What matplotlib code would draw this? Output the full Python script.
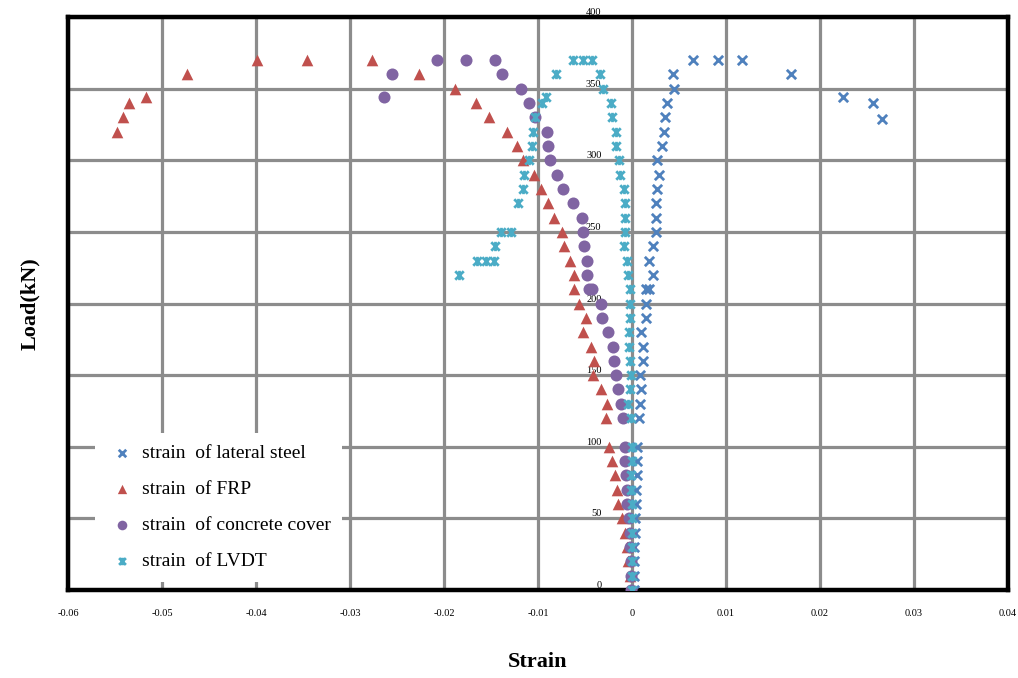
import matplotlib
matplotlib.use('Agg')
import matplotlib.pyplot as plt
from matplotlib.path import Path
import numpy as np

plt.rcParams['font.family'] = ['Liberation Serif', 'DejaVu Serif']

# lateral steel strain gauge
steel_load = [0, 10, 20, 30, 40, 50, 60, 70, 80, 90, 100, 120, 130, 140, 150, 160, 170, 180, 190, 200,
              210, 210, 220, 230, 240, 250, 260, 270, 280, 290, 300, 310, 320, 330, 340, 350, 360,
              370, 370, 370, 360, 344, 340, 329]
steel_strain = [0.0002, 0.0002, 0.0002, 0.0002, 0.0003, 0.0003, 0.0004, 0.0004, 0.0005, 0.0005, 0.0005,
                0.0007, 0.0009, 0.0010, 0.0009, 0.0012, 0.0012, 0.0010, 0.0015, 0.0015,
                0.0015, 0.0018, 0.0022, 0.0018, 0.0022, 0.0026, 0.0026, 0.0026, 0.0027, 0.0029, 0.0027,
                0.0032, 0.0034, 0.0035, 0.0037, 0.0045, 0.0044,
                0.0065, 0.0092, 0.0117, 0.0169, 0.0224, 0.0256, 0.0266]

# FRP jacket
frp_load = [0, 10, 20, 30, 40, 50, 60, 70, 80, 90, 100, 120, 130, 140, 150, 160, 170, 180, 190, 200,
            210, 220, 230, 240, 250, 260, 270, 280, 290, 300, 310, 320, 330, 340, 350, 360,
            370, 370, 370, 360, 344, 340, 330, 320]
frp_strain = [-0.0001, -0.0002, -0.0004, -0.0005, -0.0007, -0.0011, -0.0015, -0.0016, -0.0018, -0.0021,
              -0.0024, -0.0028, -0.0027, -0.0033, -0.0041, -0.0040, -0.0044, -0.0052, -0.0049, -0.0056,
              -0.0062, -0.0062, -0.0066, -0.0072, -0.0074, -0.0083, -0.0089, -0.0097, -0.0104, -0.0116,
              -0.0122, -0.0133, -0.0152, -0.0166, -0.0188, -0.0227,
              -0.0277, -0.0346, -0.0399, -0.0473, -0.0517, -0.0535, -0.0541, -0.0548]

# concrete cover
cover_load = [0, 10, 20, 30, 40, 50, 60, 70, 80, 90, 100, 120, 130, 140, 150, 160, 170, 180, 190, 200,
              210, 210, 220, 230, 240, 250, 260, 270, 280, 290, 300, 310, 320, 330, 340, 350, 360,
              370, 370, 370, 360, 344]
cover_strain = [-0.0001, -0.0001, -0.0001, -0.0002, -0.0002, -0.0003, -0.0005, -0.0005, -0.0006, -0.0007,
                -0.0007, -0.0010, -0.0012, -0.0015, -0.0017, -0.0019, -0.0020, -0.0026, -0.0032, -0.0033,
                -0.0046, -0.0043, -0.0048, -0.0048, -0.0051, -0.0052, -0.0053, -0.0063, -0.0073, -0.0080,
                -0.0087, -0.0089, -0.0090, -0.0103, -0.0110, -0.0118, -0.0138,
                -0.0146, -0.0177, -0.0207, -0.0255, -0.0264]

# LVDT readings
lvdt_load = [0, 10, 20, 30, 40, 50, 60, 70, 80, 90, 100, 120, 130, 140, 150, 160, 170, 180, 190, 200,
             210, 220, 230, 240, 250, 260, 270, 280, 290, 300, 310, 320, 330, 340, 350, 360,
             370, 370, 370, 360,
             220, 230, 230, 230, 240, 250, 250, 270, 280, 290, 300, 310, 320, 330, 340, 344]
lvdt_strain = [0.0, 0.0, 0.0, 0.0, 0.0, 0.0, 0.0, -0.0001, -0.0001, 0.0, 0.0, -0.0001, -0.0004, -0.0002,
               -0.0001, -0.0002, -0.0003, -0.0003, -0.0002, -0.0002,
               -0.0002, -0.0004, -0.0005, -0.0009, -0.0007, -0.0007, -0.0007, -0.0009, -0.0013, -0.0014,
               -0.0017, -0.0017, -0.0021, -0.0022, -0.0031, -0.0034,
               -0.0043, -0.0052, -0.0063, -0.0081,
               -0.0184, -0.0165, -0.0155, -0.0147, -0.0146, -0.0139, -0.0129, -0.0121, -0.0116, -0.0115,
               -0.0110, -0.0106, -0.0105, -0.0103, -0.0096, -0.0091]

x_ticks = [-0.06, -0.05, -0.04, -0.03, -0.02, -0.01, 0, 0.01, 0.02, 0.03, 0.04]
x_tick_labels = ['-0.06', '-0.05', '-0.04', '-0.03', '-0.02', '-0.01', '0', '0.01', '0.02', '0.03', '0.04']
y_ticks = [0, 50, 100, 150, 200, 250, 300, 350, 400]

# asterisk-like marker: an x with a vertical stroke
star = Path([(-1, -1), (1, 1), (-1, 1), (1, -1), (0, -1.1), (0, 1.1)],
            [Path.MOVETO, Path.LINETO, Path.MOVETO, Path.LINETO, Path.MOVETO, Path.LINETO])

fig = plt.figure(figsize=(10.18, 6.78), dpi=100)
ax = fig.add_axes([0.0668, 0.1298, 0.9234, 0.845])

ax.scatter(steel_strain, steel_load, marker='x', s=45, color='#4f81bd', linewidths=2.0,
           label='strain  of lateral steel', zorder=3)
ax.scatter(frp_strain, frp_load, marker='^', s=70, color='#c0504d', linewidths=0,
           label='strain  of FRP', zorder=3)
ax.scatter(cover_strain, cover_load, marker='o', s=75, color='#8064a2', linewidths=0,
           label='strain  of concrete cover', zorder=3)
ax.scatter(lvdt_strain, lvdt_load, marker=star, s=45, color='#4bacc6', linewidths=2.0,
           label='strain  of LVDT', zorder=3)

ax.set_xlim(-0.06, 0.04)
ax.set_ylim(0, 400)
ax.set_xticks(x_ticks)
ax.set_xticklabels(x_tick_labels)
ax.set_yticks(y_ticks)
ax.tick_params(axis='x', length=0, pad=14, labelsize=7.5)
ax.tick_params(axis='y', length=0, labelleft=False)
ax.grid(True, color='#8c8c8c', linewidth=2.3)
ax.set_axisbelow(True)
for spine in ax.spines.values():
    spine.set_linewidth(3.2)
    spine.set_color('black')

# load values sit just left of the zero-strain line
yax = ax.secondary_yaxis(0.6)
yax.set_yticks(y_ticks)
yax.yaxis.set_ticks_position('left')
yax.spines['left'].set_visible(False)
yax.spines['right'].set_visible(False)
yax.tick_params(length=0, pad=22, labelsize=7.5, labelleft=True, labelright=False)
for lbl in yax.get_yticklabels():
    lbl.set_verticalalignment('bottom')

ax.set_xlabel('Strain', fontsize=16, fontweight='bold', labelpad=24)
ax.set_ylabel('Load(kN)', fontsize=16, fontweight='bold', labelpad=20)

leg = ax.legend(loc='lower left', bbox_to_anchor=(0.029, 0.014), fontsize=14, frameon=True,
                facecolor='white', edgecolor='none', framealpha=1, labelspacing=0.95,
                handletextpad=0.2, handlelength=1.6, borderpad=0.6, borderaxespad=0,
                markerscale=0.8)
leg.get_frame().set_boxstyle('square', pad=0)

fig.savefig('out.png', dpi=100)
